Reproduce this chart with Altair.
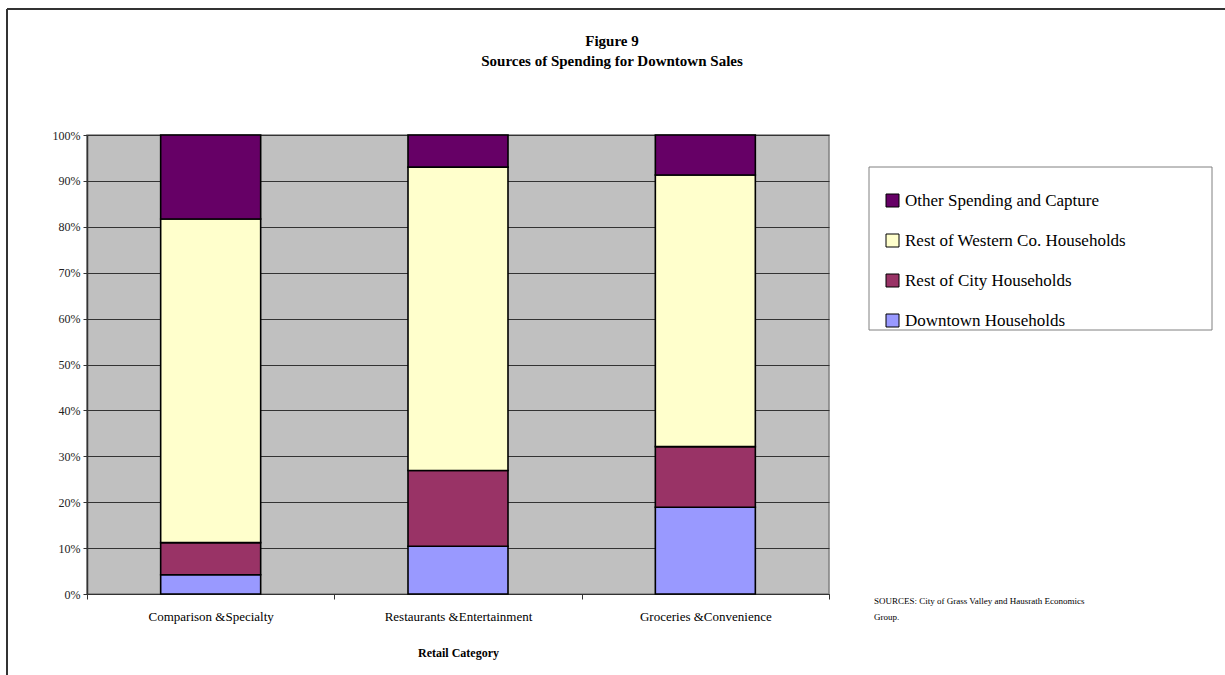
import altair as alt
import pandas as pd

categories = ["Comparison &Specialty", "Restaurants &Entertainment", "Groceries &Convenience"]
series = ["Downtown Households", "Rest of City Households",
          "Rest of Western Co. Households", "Other Spending and Capture"]
downtown = [4.2, 10.4, 18.9]
rest_city = [7.0, 16.5, 13.2]
western = [70.5, 66.1, 59.2]
other = [18.3, 7.0, 8.7]
colors = ["#9999FF", "#993366", "#FFFFCC", "#660066"]
legend_order = ["Other Spending and Capture", "Rest of Western Co. Households",
                "Rest of City Households", "Downtown Households"]
title_lines = ["Figure 9", "Sources of Spending for Downtown Sales"]
source_note = "SOURCES:  City of Grass Valley and Hausrath Economics\nGroup."

rows = []
for si, (name, vals) in enumerate(zip(series, [downtown, rest_city, western, other])):
    for c, v in zip(categories, vals):
        rows.append({"category": c, "series": name, "value": v, "ord": si})
df = pd.DataFrame(rows)

FONT = "Liberation Serif"

bars = alt.Chart(df).mark_bar(size=100, stroke="black", strokeWidth=1.6).encode(
    x=alt.X("category:N", sort=categories,
            scale=alt.Scale(paddingInner=0, paddingOuter=0),
            axis=alt.Axis(title="Retail Category", labelAngle=0, tickBand="extent",
                          tickSize=5, tickColor="#333333", domainColor="#333333",
                          labelFont=FONT, labelFontSize=13, labelPadding=11,
                          labelColor="black", titleFont=FONT, titleFontSize=12,
                          titleFontWeight="bold", titleColor="black", titlePadding=24,
                          grid=False)),
    y=alt.Y("value:Q", stack="normalize",
            scale=alt.Scale(domain=[0, 1], nice=False),
            axis=alt.Axis(title=None, format=".0%", values=[i / 10 for i in range(11)],
                          tickSize=4, tickColor="#333333", domainColor="#333333",
                          domainWidth=1.5, labelFont=FONT, labelFontSize=12,
                          labelColor="#222222", labelPadding=3,
                          gridColor="#333333", gridWidth=1)),
    color=alt.Color("series:N", scale=alt.Scale(domain=legend_order,
                                                range=[colors[3], colors[2], colors[1], colors[0]]),
                    legend=alt.Legend(title=None, orient="none", legendX=797, legendY=57,
                                      labelFont=FONT, labelFontSize=17, labelColor="black",
                                      symbolType="square", symbolSize=169,
                                      symbolStrokeColor="black", symbolStrokeWidth=1,
                                      rowPadding=22, padding=0, labelOffset=4,
                                      labelLimit=400)),
    order=alt.Order("ord:Q", sort="ascending"),
)

one = pd.DataFrame({"a": [0]})

legend_box = alt.Chart(one).mark_rect(fill="white", stroke="#808080", strokeWidth=1).encode(
    x=alt.value(782), x2=alt.value(1125), y=alt.value(32), y2=alt.value(195))

border_top = alt.Chart(one).mark_rule(color="#333333", strokeWidth=2).encode(
    x=alt.value(-80), x2=alt.value(1138), y=alt.value(-126))
border_left = alt.Chart(one).mark_rule(color="#333333", strokeWidth=2).encode(
    x=alt.value(-80), y=alt.value(-126), y2=alt.value(540))

title1 = alt.Chart(pd.DataFrame({"t": [title_lines[0]]})).mark_text(
    font=FONT, fontSize=15, fontWeight="bold", align="center", baseline="middle",
    color="black").encode(text="t:N", x=alt.value(525), y=alt.value(-94))
title2 = alt.Chart(pd.DataFrame({"t": [title_lines[1]]})).mark_text(
    font=FONT, fontSize=15, fontWeight="bold", align="center", baseline="middle",
    color="black").encode(text="t:N", x=alt.value(525), y=alt.value(-74))

sources = alt.Chart(pd.DataFrame({"t": [source_note]})).mark_text(
    font=FONT, fontSize=9, align="left", baseline="middle", lineBreak="\n",
    lineHeight=16, color="black").encode(
    text="t:N", x=alt.value(787), y=alt.value(466))

chart = alt.layer(bars, legend_box, border_top, border_left, title1, title2, sources).properties(
    width=742, height=459,
    autosize=alt.AutoSizeParams(type="none"),
    padding={"left": 87, "top": 135, "right": 396, "bottom": 81},
).configure(background="white").configure_view(fill="#C0C0C0", stroke="#808080", strokeWidth=1.5)

chart.save("out.html", embed_options={"renderer": "svg", "actions": False})
